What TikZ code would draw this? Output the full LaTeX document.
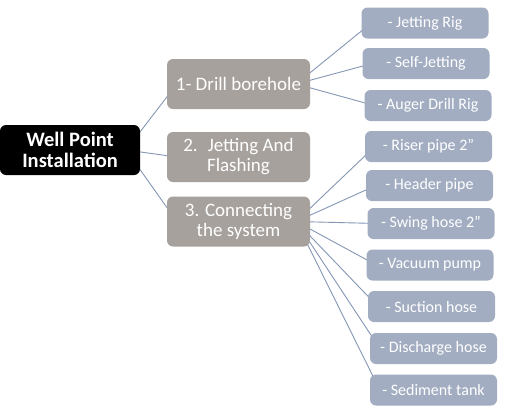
\documentclass[tikz,border=0pt]{standalone}
\usepackage{fontspec}
\setmainfont{Carlito}
\usepackage{tikz}
\definecolor{stage_gray}{RGB}{166,161,157}
\definecolor{item_blue}{RGB}{162,173,194}
\definecolor{link_blue}{RGB}{132,150,180}
\tikzset{
  root_font/.style = {font=\fontsize{20.5}{21}\selectfont\bfseries},
  stage_font/.style = {font=\fontsize{19}{20}\selectfont},
  item_font/.style = {font=\fontsize{16}{18}\selectfont}
}
\tikzset{
  box/.style = {rounded corners=6pt, text=white, align=center, inner sep=0pt},
  root_box/.style = {box, root_font, fill=black, minimum width=140pt, minimum height=50pt},
  stage_box/.style = {box, stage_font, fill=stage_gray, minimum width=143pt, minimum height=50pt},
  item_box/.style = {box, item_font, fill=item_blue, minimum width=127pt, minimum height=31pt},
  link_line/.style = {draw=link_blue, line width=0.9pt}
}
\usetikzlibrary{backgrounds}

\begin{document}
\begin{tikzpicture}[x=1pt, y=-1pt]{
        \useasboundingbox (0,0) rectangle (515,408);

        % Root
        \node[root_box] at (70,150) (well) {Well Point\\Installation};

        % Stages
        \node[stage_box] at (238.5,84) (drill) {1- Drill borehole};
        \node[stage_box] at (238.5,157) (jetting) {2.~ Jetting And\\Flashing};
        \node[stage_box] at (238.5,221.5) (connect) {3. Connecting\\the system};

        % Drilling options
        \node[item_box] at (425,23) (rig) {- Jetting Rig};
        \node[item_box] at (426,63.5) (self) {- Self-Jetting};
        \node[item_box] at (428,105.5) (auger) {- Auger Drill Rig};

        % System parts
        \node[item_box] at (428.5,146.5) (riser) {- Riser pipe 2”};
        \node[item_box] at (429.5,185.5) (header) {- Header pipe};
        \node[item_box] at (431,223.5) (swing) {- Swing hose 2”};
        \node[item_box] at (430,265) (vacuum) {- Vacuum pump};
        \node[item_box] at (431.5,306.5) (suction) {- Suction hose};
        \node[item_box] at (433.5,348.5) (discharge) {- Discharge hose};
        \node[item_box] at (433.5,390) (sediment) {- Sediment tank};

        % Lines
        \begin{scope}[on background layer]
        \draw[link_line] ([xshift=-14pt]well.east)--([xshift=10pt]drill.west);
        \draw[link_line] ([xshift=-14pt]well.east)--([xshift=10pt]jetting.west);
        \draw[link_line] ([xshift=-14pt]well.east)--([xshift=10pt]connect.west);

        \draw[link_line] ([xshift=-14pt]drill.east)--([xshift=10pt]rig.west);
        \draw[link_line] ([xshift=-14pt]drill.east)--([xshift=10pt]self.west);
        \draw[link_line] ([xshift=-14pt]drill.east)--([xshift=10pt]auger.west);

        \draw[link_line] ([xshift=-14pt]connect.east)--([xshift=10pt]riser.west);
        \draw[link_line] ([xshift=-14pt]connect.east)--([xshift=10pt]header.west);
        \draw[link_line] ([xshift=-14pt]connect.east)--([xshift=10pt]swing.west);
        \draw[link_line] ([xshift=-14pt]connect.east)--([xshift=10pt]vacuum.west);
        \draw[link_line] ([xshift=-14pt]connect.east)--([xshift=10pt]suction.west);
        \draw[link_line] ([xshift=-14pt]connect.east)--([xshift=10pt]discharge.west);
        \draw[link_line] ([xshift=-14pt]connect.east)--([xshift=10pt]sediment.west);
        \end{scope}
        }
\end{tikzpicture}
\end{document}
